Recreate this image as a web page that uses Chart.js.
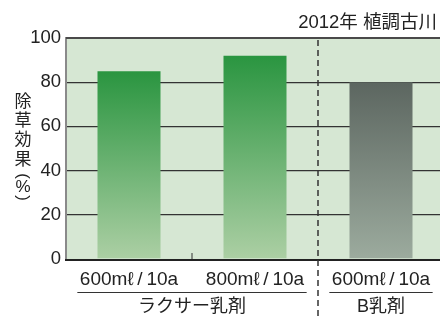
<!DOCTYPE html>
<html>
<head>
<meta charset="utf-8">
<script src="https://cdn.jsdelivr.net/npm/chart.js@4/dist/chart.umd.min.js"></script>
<style>
html,body{margin:0;padding:0;background:#fff;overflow:hidden;}
#wrap{position:relative;width:444px;height:318px;}
</style>
</head>
<body>
<div id="wrap"><canvas id="c"></canvas></div>
<script>
const categories = ['600mℓ\u2009/\u200910a', '800mℓ\u2009/\u200910a', '600mℓ\u2009/\u200910a'];
const groups = ['ラクサー乳剤', 'B乳剤'];
const groupSpans = [[0, 1], [2, 2]];
const values = [85, 92, 80];
const yTicks = [0, 20, 40, 60, 80, 100];
const titleText = '2012年 植調古川';
const yTitle = ['除', '草', '効', '果', '(', '%', ')'];

const FONT = '"Liberation Sans", "Noto Sans CJK JP", sans-serif';
const greenTop = 'rgb(42,149,64)', greenBot = 'rgb(172,207,164)';
const grayTop = 'rgb(92,102,96)', grayBot = 'rgb(156,171,158)';

function barGradient(ctx) {
  const chart = ctx.chart;
  const area = chart.chartArea;
  if (!area) return greenTop;
  const y = chart.scales.y;
  const top = y.getPixelForValue(values[ctx.dataIndex]);
  const bot = y.getPixelForValue(0);
  const g = chart.ctx.createLinearGradient(0, top, 0, bot);
  const isGray = ctx.dataIndex === 2;
  g.addColorStop(0, isGray ? grayTop : greenTop);
  g.addColorStop(1, isGray ? grayBot : greenBot);
  return g;
}

const decor = {
  id: 'decor',
  beforeDraw(chart) {
    const {ctx, chartArea: a} = chart;
    ctx.save();
    ctx.fillStyle = '#d6e7d3';
    ctx.fillRect(a.left, a.top, a.right - a.left, a.bottom - a.top);
    ctx.restore();
  },
  afterDatasetsDraw(chart) {
    const {ctx, chartArea: a, scales: {x, y}} = chart;
    ctx.save();
    // top border
    ctx.strokeStyle = '#4a4a4a';
    ctx.lineWidth = 2;
    ctx.beginPath();
    ctx.moveTo(a.left, a.top); ctx.lineTo(a.right, a.top); ctx.stroke();
    // bottom axis
    ctx.strokeStyle = '#222';
    ctx.lineWidth = 2;
    ctx.beginPath();
    ctx.moveTo(a.left - 1, a.bottom + 1); ctx.lineTo(a.right, a.bottom + 1); ctx.stroke();
    // small tick between first two categories
    const b01 = (x.getPixelForValue(0) + x.getPixelForValue(1)) / 2;
    ctx.lineWidth = 1;
    ctx.strokeStyle = '#333';
    ctx.beginPath();
    ctx.moveTo(b01, a.bottom - 6); ctx.lineTo(b01, a.bottom); ctx.stroke();
    // dashed separator
    const b12 = (x.getPixelForValue(1) + x.getPixelForValue(2)) / 2;
    ctx.setLineDash([6, 4]);
    ctx.lineWidth = 1.5;
    ctx.strokeStyle = '#333';
    ctx.beginPath();
    ctx.moveTo(b12, a.top + 2); ctx.lineTo(b12, chart.height); ctx.stroke();
    ctx.setLineDash([]);
    // group underlines + labels
    const half = (x.getPixelForValue(1) - x.getPixelForValue(0)) * 0.41;
    ctx.fillStyle = '#222';
    ctx.font = '18px ' + FONT;
    ctx.textAlign = 'center';
    ctx.textBaseline = 'middle';
    groups.forEach((g, i) => {
      const [s, e] = groupSpans[i];
      const xs = x.getPixelForValue(s) - half;
      const xe = x.getPixelForValue(e) + half;
      ctx.strokeStyle = '#333';
      ctx.lineWidth = 1;
      ctx.beginPath();
      ctx.moveTo(xs, 292.5); ctx.lineTo(xe, 292.5); ctx.stroke();
      ctx.fillText(g, (xs + xe) / 2, 307);
    });
    // title
    ctx.textAlign = 'right';
    ctx.font = '18.5px ' + FONT;
    ctx.fillText(titleText, 437, 23);
    // vertical y title
    ctx.textAlign = 'center';
    ctx.font = '17px ' + FONT;
    const ys = [102, 121, 140, 160, 176, 187, 198];
    yTitle.forEach((ch, i) => {
      if (ch === '(' || ch === ')') {
        ctx.save();
        ctx.translate(23, ys[i]);
        ctx.rotate(Math.PI / 2);
        ctx.fillText(ch, 0, 0);
        ctx.restore();
      } else {
        ctx.fillText(ch, 23, ys[i]);
      }
    });
    ctx.restore();
  }
};

new Chart(document.getElementById('c'), {
  type: 'bar',
  data: {
    labels: categories,
    datasets: [{
      data: values,
      backgroundColor: barGradient,
      borderWidth: 0,
      barPercentage: 0.5,
      categoryPercentage: 1.0
    }]
  },
  options: {
    responsive: true,
    maintainAspectRatio: false,
    animation: false,
    events: [],
    layout: {padding: {top: 38, left: 0, right: 0, bottom: 0}},
    plugins: {legend: {display: false}, tooltip: {enabled: false}, title: {display: false}},
    scales: {
      x: {
        type: 'category',
        offset: true,
        grid: {display: false, drawTicks: false},
        border: {display: false},
        ticks: {
          color: '#222',
          font: {size: 19, family: FONT},
          padding: 9,
          maxRotation: 0,
          autoSkip: false
        },
        afterFit(s) { s.height = 59; }
      },
      y: {
        min: 0,
        max: 100,
        afterBuildTicks(s) { s.ticks = yTicks.map(v => ({value: v})); },
        grid: {
          drawTicks: false,
          color: c => (c.tick && (c.tick.value === 0 || c.tick.value === 100)) ? 'rgba(0,0,0,0)' : '#333',
          lineWidth: 1.3
        },
        border: {display: true, color: '#8a8a8a', width: 2},
        ticks: {
          color: '#222',
          font: {size: 18.5, family: FONT},
          padding: 5
        },
        afterFit(s) { s.width = 66; }
      }
    }
  },
  plugins: [decor]
});
</script>
</body>
</html>
